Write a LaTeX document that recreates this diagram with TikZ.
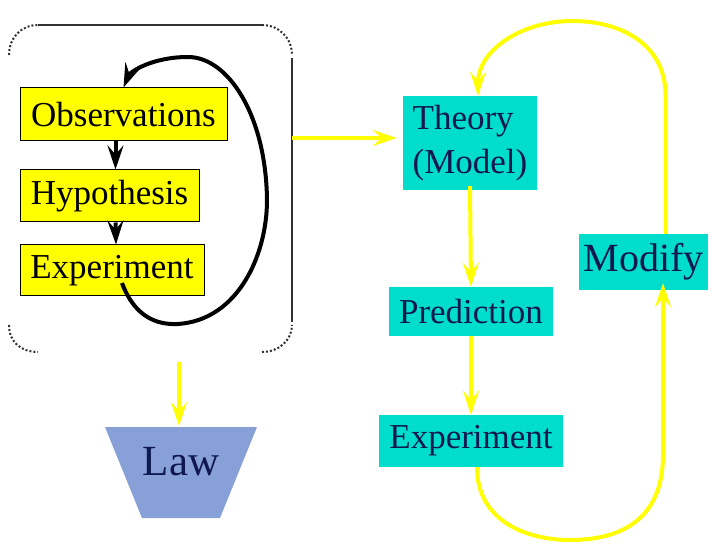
\documentclass[tikz,border=0pt]{standalone}
\usepackage{fontspec}
\setmainfont{Liberation Serif}
\usetikzlibrary{arrows.meta}
\definecolor{ybox}{RGB}{255,255,0}
\definecolor{cbox}{RGB}{0,221,204}
\definecolor{navy}{RGB}{16,24,80}
\definecolor{lawc}{RGB}{136,160,216}
\definecolor{framec}{RGB}{50,50,50}
\begin{document}
\begin{tikzpicture}[x=1pt,y=-1pt,
 ybx/.style={fill=ybox, draw=black, line width=1pt, inner sep=0pt, font=\fontsize{35}{40}\selectfont},
 cbx/.style={fill=cbox, inner sep=0pt, text=navy, font=\fontsize{35}{44}\selectfont},
 yarr/.style={draw=ybox, line width=4pt, -{Stealth[length=24pt,width=16pt,inset=9pt]}},
 barr/.style={draw=black, line width=4pt, -{Stealth[length=24pt,width=16pt,inset=9pt]}},
 fr/.style={draw=framec, line width=2pt},
 frd/.style={draw=framec, line width=2pt, dotted},
]
\useasboundingbox (0,0) rectangle (712,545);
\fill[white] (0,0) rectangle (712,545);
% frame
\draw[fr] (38,25) -- (262,25);
\draw[fr] (292,58) -- (292,322);
\draw[frd] (9,55) .. controls (9,38) and (21,25) .. (38,25);
\draw[frd] (262,25) .. controls (279,25) and (292,38) .. (292,55);
\draw[frd] (9,325) .. controls (9,342) and (21,352) .. (38,352);
\draw[frd] (262,352) .. controls (279,352) and (292,340) .. (292,325);
% left boxes
\node[ybx, minimum width=207pt, minimum height=53pt] (obs) at (123.5,114.5) {Observations};
\node[ybx, minimum width=179pt, minimum height=52pt] (hyp) at (109.5,196) {Hypothesis};
\node[ybx, minimum width=184pt, minimum height=51pt] (exp1) at (112,270.5) {Experiment};
\draw[barr] ([xshift=-8pt]obs.south) -- ([xshift=6pt]hyp.north);
\draw[barr] ([xshift=6pt]hyp.south) -- ([xshift=4pt]exp1.north);
\coordinate (l1) at (122,283);
\draw[barr] (l1) .. controls (135,318) and (158,325) .. (178,324)
  .. controls (238,320) and (267,255) .. (267,200)
  .. controls (266,115) and (228,57) .. (188,57)
  .. controls (152,57) and (130,72) .. (obs.north);
% right boxes
\node[cbx, minimum width=134pt, minimum height=94pt, align=left] (th) at (470,143) {Theory\\(Model)};
\node[cbx, minimum width=164pt, minimum height=49pt] (pr) at (471,311.5) {Prediction};
\node[cbx, minimum width=184pt, minimum height=52pt] (exp2) at (471,441) {Experiment};
\node[cbx, minimum width=129pt, minimum height=56pt, font=\fontsize{40}{44}\selectfont] (mod) at (643.5,262) {Modify};
\coordinate (fr1) at (292,138);
\draw[yarr] (fr1) -- ([xshift=-6pt]th.west |- fr1);
\draw[yarr] ([yshift=4pt]th.south) -- (pr.north);
\draw[yarr] (pr.south) -- (exp2.north);
\draw[yarr] ([xshift=6pt]exp2.south) .. controls (477,522) and (528,540) .. (570,540)
  .. controls (630,540) and (663,512) .. (663,455) -- ([xshift=19.5pt,yshift=7pt]mod.south);
\draw[yarr] ([xshift=22pt]mod.north) -- (665.5,95) .. controls (665.5,45) and (622,21) .. (572,21)
  .. controls (522,21) and (478,50) .. ([xshift=8pt]th.north);
% law
\fill[lawc] (105,427) -- (257,427) -- (220,518) -- (142,518) -- cycle;
\node[text=navy, font=\fontsize{43}{48}\selectfont, inner sep=0pt] (law) at (181,462) {Law};
\coordinate (lawsrc) at (179,362);
\coordinate (lawtop) at (179,426);
\draw[yarr] (lawsrc) -- (lawtop);
\end{tikzpicture}
\end{document}
